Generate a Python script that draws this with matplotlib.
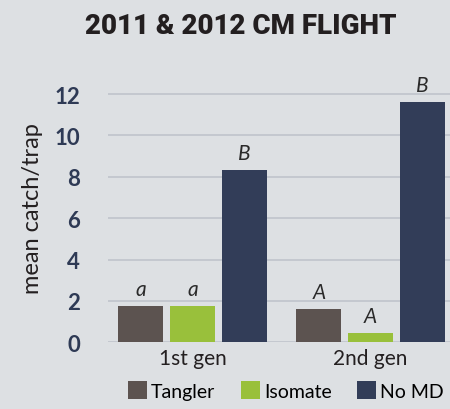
import matplotlib
matplotlib.use('Agg')
import matplotlib.pyplot as plt
import numpy as np

# ------------------ Data ------------------
generations = ['1st gen', '2nd gen']
treatments = ['Tangler', 'Isomate', 'No MD']
tangler = [1.75, 1.61]
isomate = [1.75, 0.45]
no_md = [8.32, 11.62]
letters = [['a', 'a', 'B'], ['A', 'A', 'B']]

colors = ['#5c5350', '#99c03b', '#323d58']
bg = '#dde0e3'

# ------------------ Figure ------------------
fig = plt.figure(figsize=(4.5, 4.1), dpi=100)
fig.patch.set_facecolor(bg)
ax = fig.add_axes([0.24, 0.1627, 0.76, 0.656])
ax.set_facecolor(bg)

x = np.arange(len(generations))
offset = 0.29
width = 0.253
series = [tangler, isomate, no_md]
bars = []
for i, vals in enumerate(series):
    b = ax.bar(x + (i - 1) * offset, vals, width, color=colors[i], zorder=3,
               label=treatments[i])
    bars.append(b)
    for j, v in enumerate(vals):
        ax.text(x[j] + (i - 1) * offset, v + 0.35, letters[j][i],
                ha='center', va='bottom', fontsize=15, style='italic',
                family='Lato', color='#2a2a2a')

ax.set_ylim(0, 13)
ax.set_xlim(-0.475, 1.447)
ax.set_yticks(range(0, 13, 2))
ax.set_xticks(x)
ax.set_xticklabels(generations, family='Lato', fontsize=15, color='#231f20')
for lbl in ax.get_yticklabels():
    lbl.set_family('Lato')
    lbl.set_weight('bold')
    lbl.set_fontsize(16)
    lbl.set_color('#2e3a55')
ax.tick_params(axis='y', length=0, pad=20)
ax.tick_params(axis='x', length=0, pad=4)
ax.grid(axis='y', color='#c2c6cd', linewidth=1.3, zorder=0)
for s in ax.spines.values():
    s.set_visible(False)

ax.set_ylabel('mean catch/trap', family='Lato', fontsize=17,
              color='#231f20', labelpad=8)

fig.text(0.535, 0.935, '2011 & 2012 CM FLIGHT', ha='center', va='center',
         fontsize=20, weight='black', family='Roboto',
         color='#231f20')

fig.legend(handles=bars, labels=treatments, loc='lower center',
           bbox_to_anchor=(0.635, -0.02), ncol=3, frameon=False,
           prop={'family': 'Lato', 'size': 14},
           handlelength=1.0, handleheight=1.0, handletextpad=0.2,
           columnspacing=1.3)

fig.savefig('out.png', dpi=100, facecolor=bg)
